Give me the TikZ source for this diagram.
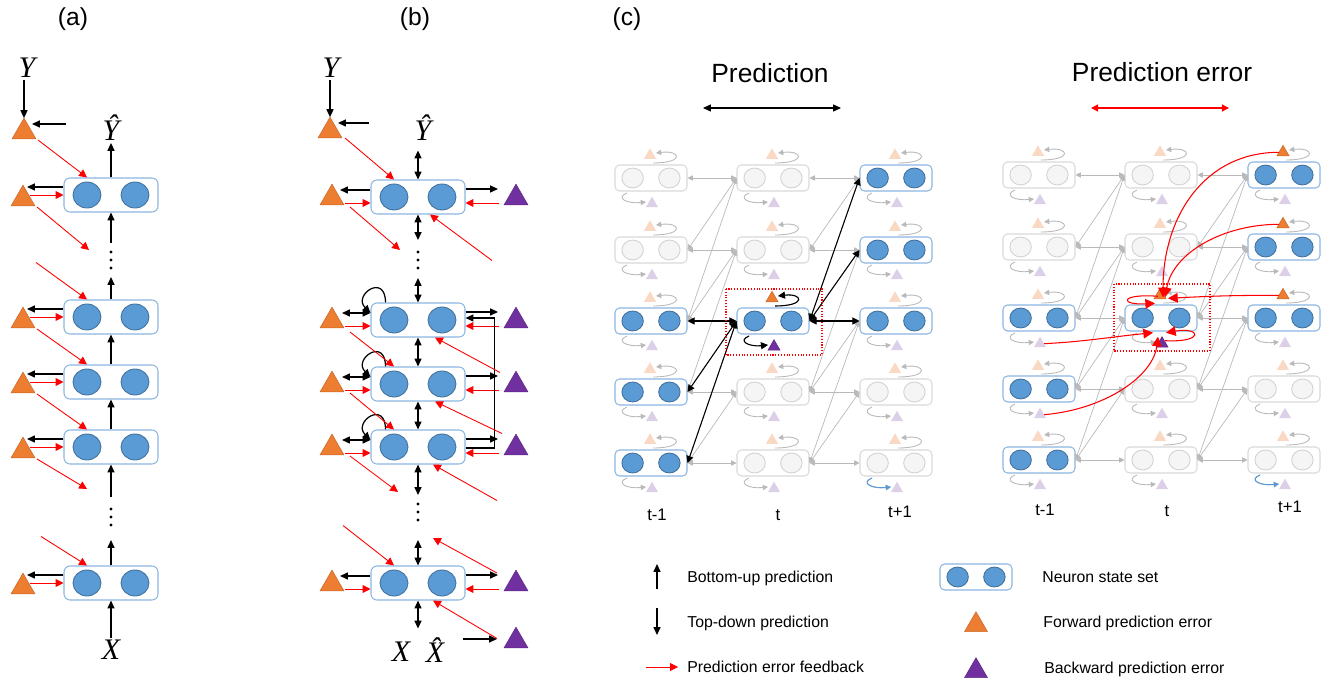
\documentclass[tikz,border=0pt]{standalone}
\usepackage{fontspec}
\setsansfont{Liberation Sans}
\newfontfamily\varfont{Liberation Serif}
\usetikzlibrary{calc,arrows.meta,shapes.geometric}

\definecolor{cellblue}{HTML}{5B9BD5}
\definecolor{cellline}{HTML}{41719C}
\definecolor{boxblue}{HTML}{8AB6E0}
\definecolor{errorange}{HTML}{ED7D31}
\definecolor{errpurple}{HTML}{7030A0}
\definecolor{paleorange}{HTML}{FAD9C4}
\definecolor{palepurple}{HTML}{DCD0E8}

\tikzset{
  setbox/.style={rounded corners=#1*3.4pt, line width=0.6pt, minimum width=#1*1.88cm, minimum height=#1*0.68cm, inner sep=0pt},
  cell/.style={ellipse, minimum width=#1*0.56cm, minimum height=#1*0.52cm, inner sep=0pt, line width=0.5pt},
  onbox/.style={draw=boxblue},
  oncell/.style={fill=cellblue, draw=cellline},
  offbox/.style={draw=gray!30},
  offcell/.style={fill=gray!8, draw=gray!35},
  tri/.style={regular polygon, regular polygon sides=3, inner sep=0pt, outer sep=0pt, minimum size=#1},
  fwd/.style={tri=#1, fill=errorange, draw=errorange!85!black, line width=0.3pt},
  bwd/.style={tri=#1, fill=errpurple, draw=errpurple!85!black, line width=0.3pt},
  pfwd/.style={tri=0.28cm, fill=paleorange},
  pbwd/.style={tri=0.28cm, fill=palepurple},
  pred/.style={-{Triangle[length=4.5pt,width=4pt]}, line width=0.7pt},
  dpred/.style={{Triangle[length=4.5pt,width=4pt]}-{Triangle[length=4.5pt,width=4pt]}, line width=0.7pt},
  err/.style={red, -{Triangle[length=4.5pt,width=4.5pt]}, line width=0.5pt},
  dfbk/.style={red, {Triangle[length=4pt,width=4pt]}-{Triangle[length=4pt,width=4pt]}, line width=0.6pt},
  link/.style={gray!55, line width=0.4pt, {Triangle[length=3pt,width=3pt]}-{Triangle[length=3pt,width=3pt]}},
  hlink/.style={black, line width=0.6pt, {Triangle[length=4pt,width=4pt]}-{Triangle[length=4pt,width=4pt]}},
  loopg/.style={gray!55, line width=0.5pt, -{Triangle[length=3pt,width=3pt]}},
  loopk/.style={black, line width=0.6pt, -{Triangle[length=4pt,width=4pt]}},
  loopb/.style={cellblue, line width=0.6pt, -{Triangle[length=3pt,width=3pt]}},
  fbk/.style={red, line width=0.6pt, -{Triangle[length=5.5pt,width=5.5pt]}},
  hlbox/.style={red, densely dotted, line width=0.6pt},
  var/.style={font=\varfont\itshape\fontsize{17}{19}\selectfont, inner sep=1pt},
  lab/.style={font=\sffamily\fontsize{14}{16}\selectfont},
  title/.style={font=\sffamily\fontsize{15}{18}\selectfont},
  tlab/.style={font=\sffamily\fontsize{9.5}{11}\selectfont},
  legtext/.style={font=\sffamily\fontsize{9}{11}\selectfont, anchor=west, inner sep=0pt}
}

% a neuron state set: name, position, scale, look (on/off)
\newcommand{\stateset}[4]{%
  \node[setbox=#3, #4box] (#1) at (#2) {};
  \node[cell=#3, #4cell] (#1-l) at ($(#1)+(-24*#3,0)$) {};
  \node[cell=#3, #4cell] (#1-r) at ($(#1)+(24*#3,0)$) {};
}

\begin{document}
\begin{tikzpicture}[x=0.02cm,y=-0.02cm]
\useasboundingbox (0,0) rectangle (1325,685);

% ---------- (a)
\node[lab] at (73,19) {(a)};
\foreach \i/\y in {1/195,2/317,3/382,4/447,5/583}{
  \stateset{a\i}{111,\y}{1}{on}
  \node[fwd=0.554cm] (ta\i) at (23,\y+4) {};
  \draw[pred] ($(a\i.west)+(0,-8)$) -- ($(ta\i)+(4,-12)$);
  \draw[err] ($(ta\i)+(7,-4)$) -- (a\i.west);
}
\node[fwd=0.554cm] (ta0) at (24,132) {};
\node[var] (Ya) at (27,68) {Y};
\draw[pred] (ta0.north |- Ya.south) -- (ta0.north);
\draw[pred] ($(ta0)+(42,-8)$) -- ($(ta0)+(8,-8)$);
\node[var] (Yha) at (111,128) {Ŷ};
\draw[pred] (a1.north) -- (Yha);

\draw[err] ($(ta0)+(14,8)$) -- (a1.north -| a1-l);
\draw[err] ($(ta1)+(14,8)$) -- ++(52,43);
\draw[err] ($(a2.north -| a2-l)+(-51,-37)$) -- (a2.north -| a2-l);
\draw[err] ($(ta2)+(14,8)$) -- (a3.north -| a3-l);
\draw[err] ($(ta3)+(14,8)$) -- (a4.north -| a4-l);
\draw[err] ($(ta4)+(14,8)$) -- ++(50,30);
\draw[err] ($(a5.north -| a5-l)+(-46,-29)$) -- (a5.north -| a5-l);

\coordinate (ad1) at (111,260);
\coordinate (ad2) at (111,517);
\foreach \d in {-8,0,8}{
  \fill ($(ad1)+(0,\d)$) circle[radius=0.9pt];
  \fill ($(ad2)+(0,\d)$) circle[radius=0.9pt];
}
\draw[pred] ($(ad1)+(0,-17)$) -- (a1.south);
\draw[pred] (a2.north) -- ($(ad1)+(0,17)$);
\draw[pred] (a3.north) -- (a2.south);
\draw[pred] (a4.north) -- (a3.south);
\draw[pred] ($(ad2)+(0,-20)$) -- (a4.south);
\draw[pred] (a5.north) -- ($(ad2)+(0,23)$);
\node[var] (Xa) at (111,650) {X};
\draw[pred] (Xa) -- (a5.south);

% ---------- (b)
\node[lab] at (415,19) {(b)};
\foreach \i/\y in {1/197,2/320,3/384,4/447,5/583}{
  \stateset{b\i}{418,\y}{1}{on}
  \node[fwd=0.554cm] (tb\i) at (332,\y+1) {};
  \node[bwd=0.554cm] (ub\i) at (516,\y+1) {};
  \draw[err] ($(tb\i)+(13,5)$) -- ($(b\i.west)+(0,6)$);
  \draw[pred] ($(b\i.east)+(0,-8)$) -- ($(ub\i)+(-18,-9)$);
  \draw[err] ($(ub\i)+(-17,5)$) -- ($(b\i.east)+(0,6)$);
}
\foreach \i in {1,5}
  \draw[pred] ($(b\i.west)+(0,-7)$) -- ($(tb\i)+(8,-8)$);
\foreach \i in {2,3,4}{
  \draw[dpred] ($(tb\i)+(10,-8)$) -- ($(b\i.west)+(0,-7)$);
  \draw[pred] ($(b\i.north west)+(15,0)$) .. controls +(0,-30) and +(-18,-18) .. ($(b\i.west)+(0,-7)$);
}
\draw[pred] ($(b4.east)+(0,1)$) -- ++(29,0) |- ($(b2.east)+(0,-2)$);

\node[fwd=0.554cm] (tb0) at (330,131) {};
\node[var] (Yb) at (331,68) {Y};
\draw[pred] (tb0.north |- Yb.south) -- (tb0.north);
\draw[pred] ($(tb0)+(39,-8)$) -- ($(tb0)+(8,-8)$);
\node[var] (Yhb) at (423,128) {Ŷ};
\draw[dpred] (b1.north) -- ($(b1.north)+(0,-29)$);

\coordinate (bd1) at (418,260);
\coordinate (bd2) at (418,512);
\foreach \d in {-8,0,8}{
  \fill ($(bd1)+(0,\d)$) circle[radius=0.9pt];
  \fill ($(bd2)+(0,\d)$) circle[radius=0.9pt];
}
\draw[dpred] (b1.south) -- ($(bd1)+(0,-20)$);
\draw[dpred] ($(bd1)+(0,18)$) -- (b2.north);
\draw[dpred] (b2.south) -- (b3.north);
\draw[dpred] (b3.south) -- (b4.north);
\draw[dpred] (b4.south) -- ($(bd2)+(0,-17)$);
\draw[dpred] ($(bd2)+(0,28)$) -- (b5.north);
\draw[dpred] (b5.south) -- ($(b5.south)+(0,28)$);
\node[var] (Xb) at (401,652) {X};
\node[var] (Xhb) at (435,650) {X̂};
\node[bwd=0.554cm] (ub6) at (516,641) {};
\draw[pred] ($(ub6)+(-53,-2)$) -- ($(ub6)+(-19,-2)$);

\draw[err] ($(tb0)+(15,7)$) -- (b1.north -| b1-l);
\draw[err] ($(tb1)+(18,9)$) -- ++(50,43);
\draw[err] ($(tb2)+(18,11)$) -- (b3.north -| b3-l);
\draw[err] ($(tb3)+(18,8)$) -- (b4.north -| b4-l);
\draw[err] ($(tb4)+(18,8)$) -- ++(48,36);
\draw[err] ($(b5.north -| b5-l)+(-51,-40)$) -- (b5.north -| b5-l);
\draw[err] ($(b1.south)+(74,46)$) -- ($(b1.south)+(12,0)$);
\draw[err] ($(b2.south)+(82,35)$) -- ($(b2.south)+(17,0)$);
\draw[err] ($(b3.south)+(84,32)$) -- ($(b3.south)+(17,0)$);
\draw[err] ($(b4.south)+(79,36)$) -- ($(b4.south)+(15,0)$);
\draw[err] ($(bd2)+(79,61)$) -- ($(bd2)+(15,26)$);
\draw[err] ($(b5.south)+(79,38)$) -- ($(b5.south)+(15,0)$);

% ---------- (c)
\node[lab] at (627,19) {(c)};
\node[title] (tp) at (770,73) {Prediction};
\draw[dpred, line width=0.6pt] ($(tp)+(-67,35)$) -- ($(tp)+(71,35)$);
\node[title] (tpe) at (1162,72) {Prediction error};
\draw[dfbk] ($(tpe)+(-71,36)$) -- ($(tpe)+(67,36)$);

\foreach \gr/\gx/\gy in {L/0/0,R/388/-3}{
  \foreach \cl/\cx in {1/651,2/773,3/896}{
    \foreach \rw/\ry in {1/178,2/250,3/321,4/392,5/463}{
      \pgfmathtruncatemacro\isact{(\cl==1 && \rw>=3) || (\cl==2 && \rw==3) || (\cl==3 && \rw<=3)}
      \ifnum\isact=1
        \stateset{\gr\cl\rw}{\cx+\gx,\ry+\gy}{0.766}{on}
      \else
        \stateset{\gr\cl\rw}{\cx+\gx,\ry+\gy}{0.766}{off}
      \fi
      \node[pfwd] (\gr\cl\rw f) at ($(\gr\cl\rw)+(-1,-22.7)$) {};
      \node[pbwd] (\gr\cl\rw b) at ($(\gr\cl\rw)+(1,25.7)$) {};
      \draw[loopg] ($(\gr\cl\rw)+(2,-15)$) .. controls +(32,0) and +(25,-3) .. ($(\gr\cl\rw)+(5,-25)$);
      \draw[loopg] ($(\gr\cl\rw)+(-24,15)$) .. controls +(-12,5) and +(-19,2) .. ($(\gr\cl\rw)+(-5,24)$);
    }
  }
  \foreach \cl/\nx in {1/2,2/3}{
    \foreach \rw in {1,...,5}
      \draw[link] (\gr\cl\rw.east) -- (\gr\nx\rw.west);
    \foreach \rw/\up in {2/1,3/2,4/3,5/4}
      \draw[link] (\gr\cl\rw.east) -- (\gr\nx\up.west);
    \foreach \rw/\up in {3/1,4/2,5/3}
      \draw[link] (\gr\cl\rw.east) -- (\gr\nx\up.west);
  }
  \draw[loopb] ($(\gr35)+(-24,15)$) .. controls +(-12,5) and +(-19,2) .. ($(\gr35)+(-5,24)$);
}

% highlighted prediction paths
\foreach \a/\b in {L13/L23,L23/L33,L14/L23,L15/L23,L23/L32,L23/L31}
  \draw[hlink] (\a.east) -- (\b.west);
\node[fwd=0.28cm] at (L23f) {};
\node[bwd=0.28cm] at (L23b) {};
\draw[loopk] ($(L23)+(2,-15)$) .. controls +(32,0) and +(25,-3) .. ($(L23)+(5,-25)$);
\draw[loopk] ($(L23)+(-24,15)$) .. controls +(-12,5) and +(-19,2) .. ($(L23)+(-5,24)$);
\draw[hlbox] ($(L23)+(-47,-32)$) rectangle ($(L23)+(49,34)$);

% prediction error paths
\foreach \n in {R31f,R32f,R33f,R23f}
  \node[fwd=0.28cm] at (\n) {};
\node[bwd=0.28cm] at (R23b) {};
\draw[hlbox] ($(R23)+(-47,-34)$) rectangle ($(R23)+(49,33)$);
\draw[fbk] (R31f.west) .. controls +(-75,0) and +(0,-80) .. ($(R23f)+(3,2)$);
\draw[fbk] (R32f.west) .. controls +(-55,0) and +(8,-45) .. ($(R23f)+(5,2)$);
\draw[fbk] (R33f.west) .. controls +(-50,0) and +(40,-2) .. ($(R23f)+(8,3)$);
\draw[fbk] ($(R23f)+(-2,1)$) .. controls +(-38,-3) and +(-36,2) .. ($(R23f)+(-5,8)$);
\draw[fbk] ($(R23b)+(3,-3)$) .. controls +(40,2) and +(35,-6) .. ($(R23b)+(4,-11)$);
\draw[fbk] (R13b.east) .. controls +(40,-2) and +(-40,4) .. ($(R23b)+(-9,-11)$);
\draw[fbk] (R14b.east) .. controls +(60,-5) and +(-5,40) .. ($(R23b)+(-4,-7)$);

\node[tlab] at (657,515) {t-1};
\node[tlab] at (778,515) {t};
\node[tlab] at (900,512) {t+1};
\node[tlab] at (1045,510) {t-1};
\node[tlab] at (1167,511) {t};
\node[tlab] at (1290,507) {t+1};

% ---------- legend
\node[legtext] (lg1) at (687,578) {Bottom-up prediction};
\draw[pred] ($(lg1.west)+(-30,11)$) -- ($(lg1.west)+(-30,-14)$);
\node[legtext] (lg2) at (687,623) {Top-down prediction};
\draw[pred] ($(lg2.west)+(-30,-15)$) -- ($(lg2.west)+(-30,12)$);
\node[legtext] (lg3) at (687,667) {Prediction error feedback};
\draw[err] ($(lg3.west)+(-41,0)$) -- ($(lg3.west)+(-9,0)$);
\stateset{lgset}{976,577}{0.766}{on}
\node[legtext] (lg4) at (1042,577) {Neuron state set};
\node[fwd=0.53cm] (lgf) at (976,625) {};
\node[legtext] (lg5) at (1043,623) {Forward prediction error};
\node[bwd=0.53cm] (lgb) at (976,671) {};
\node[legtext] (lg6) at (1044,669) {Backward prediction error};
\end{tikzpicture}
\end{document}
